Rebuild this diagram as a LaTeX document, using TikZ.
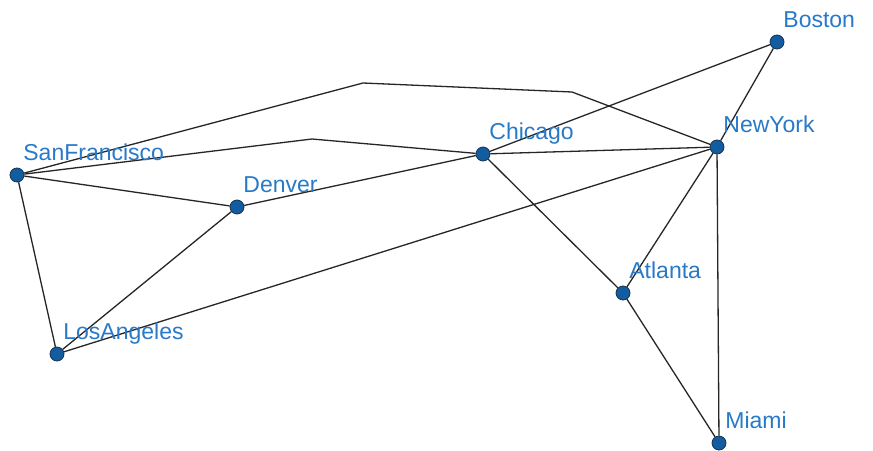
\documentclass[tikz,border=0pt]{standalone}
\usepackage{fontspec}
\setmainfont{Liberation Sans}
\usetikzlibrary{calc}
\definecolor{cityBlue}{RGB}{18,92,160}
\definecolor{cityEdge}{RGB}{25,50,80}
\definecolor{labelBlue}{RGB}{40,122,200}

\begin{document}
\begin{tikzpicture}[
    x=0.5pt, y=-0.5pt,
    city/.style={circle, draw=cityEdge, fill=cityBlue, line width=0.4pt, minimum size=7pt, inner sep=0pt},
    citylabel/.style={anchor=base west, inner sep=0pt, font=\fontsize{11.5}{13}\selectfont, text=labelBlue},
    road/.style={draw=black!85, line width=0.65pt}
]
\useasboundingbox[fill=white] (0,0) rectangle (873,450);

% Cities
\node[city] (sf) at (17,175) {};
\node[city] (den) at (237,207) {};
\node[city] (la) at (57,354) {};
\node[city] (chi) at (483,154) {};
\node[city] (ny) at (717,147) {};
\node[city] (bos) at (777,42) {};
\node[city] (atl) at (623,293) {};
\node[city] (mia) at (719,443) {};

% Bend points
\coordinate (b1) at (363,83);
\coordinate (b2) at (572,92);
\coordinate (b3) at (312,139);

% Roads
\draw[road] (sf) -- (la);
\draw[road] (sf) -- (den);
\draw[road] (sf) -- (b3) -- (chi);
\draw[road] (sf) -- (b1) -- (b2) -- (ny);
\draw[road] (den) -- (chi);
\draw[road] (den) -- (la);
\draw[road] (la) -- (ny);
\draw[road] (chi) -- (ny);
\draw[road] (chi) -- (bos);
\draw[road] (chi) -- (atl);
\draw[road] (bos) -- (ny);
\draw[road] (ny) -- (atl);
\draw[road] (ny) -- (mia);
\draw[road] (atl) -- (mia);

% Labels
\node[citylabel] (sfname) at ($(sf)+(6,-15)$) {SanFrancisco};
\node[citylabel] (denname) at ($(den)+(6,-15)$) {Denver};
\node[citylabel] (laname) at ($(la)+(6,-15)$) {LosAngeles};
\node[citylabel] (chiname) at ($(chi)+(6,-15)$) {Chicago};
\node[citylabel] (nyname) at ($(ny)+(6,-15)$) {NewYork};
\node[citylabel] (bosname) at ($(bos)+(6,-15)$) {Boston};
\node[citylabel] (atlname) at ($(atl)+(6,-15)$) {Atlanta};
\node[citylabel] (mianame) at ($(mia)+(6,-15)$) {Miami};

\end{tikzpicture}
\end{document}
